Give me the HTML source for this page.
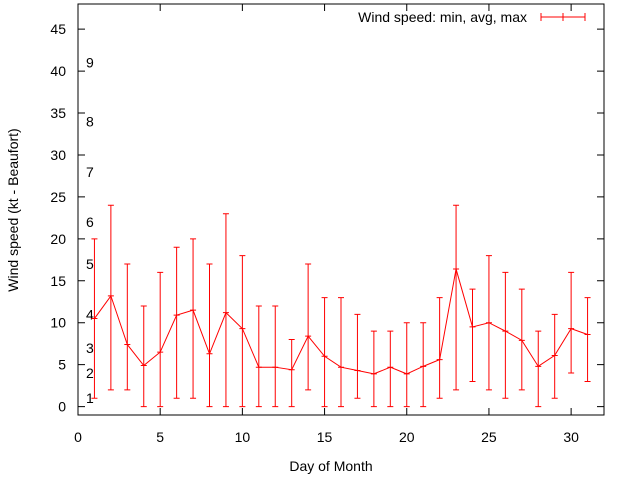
<!DOCTYPE html>
<html><head><meta charset="utf-8"><style>
body{margin:0;background:#fff}
svg text{font-family:"Liberation Sans",sans-serif;font-size:14px;fill:#000}
</style></head><body>
<svg id="chart" width="640" height="480">
<g id="axes"></g><g id="beaufort"></g><g id="series"></g>
<g>
<text x="527" y="22" text-anchor="end">Wind speed: min, avg, max</text>
<path d="M541 17H585M541 13V21M563 13V21M585 13V21" stroke="#f00"/>
</g>
<text x="331" y="471" text-anchor="middle">Day of Month</text>
<text transform="translate(18,210) rotate(-90)" text-anchor="middle">Wind speed (kt - Beaufort)</text>
</svg>
<script>
const days=[1,2,3,4,5,6,7,8,9,10,11,12,13,14,15,16,17,18,19,20,21,22,23,24,25,26,27,28,29,30,31];
const avgs=[10.5,13.2,7.4,4.9,6.5,10.9,11.5,6.3,11.2,9.3,4.7,4.7,4.4,8.4,6,4.7,4.3,3.9,4.7,3.9,4.8,5.6,16.4,9.5,10,9,7.9,4.8,6.1,9.3,8.6];
const mins=[1,2,2,0,0,1,1,0,0,0,0,0,0,2,0,0,1,0,0,0,0,1,2,3,2,1,2,0,1,4,3];
const maxs=[20,24,17,12,16,19,20,17,23,18,12,12,8,17,13,13,11,9,9,10,10,13,24,14,18,16,14,9,11,16,13];
const xTicks=[0,5,10,15,20,25,30];
const yTicks=[0,5,10,15,20,25,30,35,40,45];
const beaufortLevels=[1,4,7,11,17,22,28,34,41];
const beaufortLabels=["1","2","3","4","5","6","7","8","9"];
const L=78,R=604,T=4,B=415,X0=0,X1=32,Y0=-1,Y1=48;
const sx=v=>L+(v-X0)/(X1-X0)*(R-L);
const sy=v=>B-(v-Y0)/(Y1-Y0)*(B-T);
const NS="http://www.w3.org/2000/svg";
function mk(tag,attrs,parent,txt){const e=document.createElementNS(NS,tag);for(const k in attrs)e.setAttribute(k,attrs[k]);if(txt!==undefined)e.textContent=txt;parent.appendChild(e);return e;}
const ax=document.getElementById('axes');
let f=mk('rect',{x:L,y:T,width:R-L,height:B-T,fill:'none',stroke:'#000'},ax);


xTicks.forEach(v=>{const x=sx(v);
 let t=mk('path',{d:`M${x} ${B}V${B-7}M${x} ${T}V${T+7}`,stroke:'#000'},ax);
 
 
 let l=mk('text',{x:x,y:B+27,'text-anchor':'middle'},ax,String(v));
 
 });
yTicks.forEach(v=>{const y=sy(v);
 let t=mk('path',{d:`M${L} ${y}H${L+7}M${R} ${y}H${R-7}`,stroke:'#000'},ax);
 
 
 let l=mk('text',{x:L-12,y:y+5,'text-anchor':'end'},ax,String(v));
 
 });
const bg=document.getElementById('beaufort');
beaufortLevels.forEach((v,i)=>{let l=mk('text',{x:86,y:sy(v)+5},bg,beaufortLabels[i]);
 
 });
const sg=document.getElementById('series');
days.forEach((d,i)=>{const x=sx(d);
 let e=mk('path',{d:`M${x} ${sy(mins[i])}V${sy(maxs[i])}M${x-3} ${sy(mins[i])}H${x+3}M${x-3} ${sy(maxs[i])}H${x+3}M${x-3} ${sy(avgs[i])}H${x+3}`,stroke:'#f00',fill:'none'},sg);
 
 });
let line=mk('polyline',{points:days.map((d,i)=>sx(d)+','+sy(avgs[i])).join(' '),fill:'none',stroke:'#f00'},sg);


</script>
</body></html>
